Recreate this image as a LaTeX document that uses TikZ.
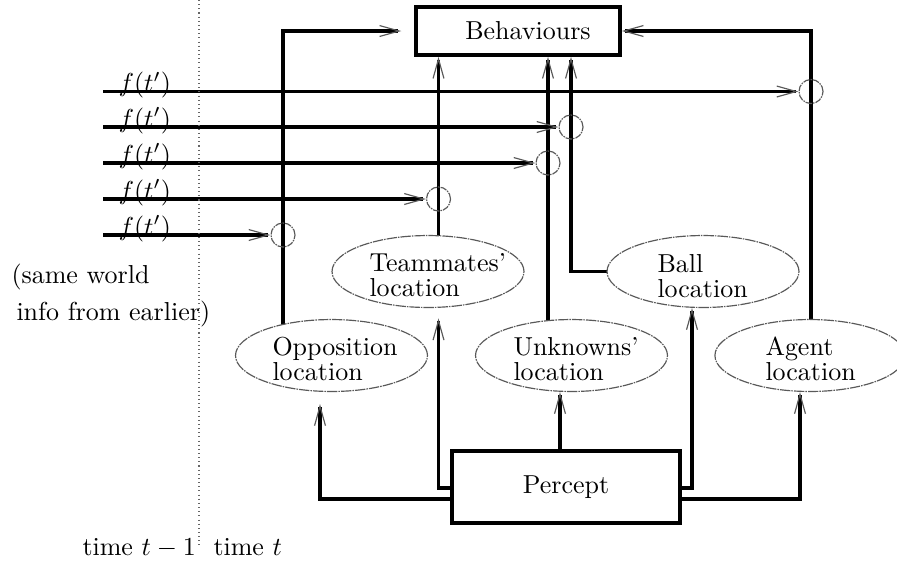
\documentclass[tikz,border=0pt]{standalone}
\usetikzlibrary{arrows.meta,shapes.geometric,calc,backgrounds}
\newcommand\twolines[2]{{\def\arraystretch{0.75}\begin{tabular}[t]{@{}l@{}}#1\\#2\end{tabular}}}
\begin{document}
\begin{tikzpicture}[x=0.385pt,y=-0.385pt,
  thickline/.style={line width=1.4pt},
  arr/.style={thickline,-{Straight Barb[length=7.5pt,width=4.2pt,line width=0.45pt,color=black!65]}},
  ell/.style={ellipse,draw=black!65,line width=0.45pt,dash pattern=on 4pt off 0.4pt on 0.6pt off 0.4pt,fill=white,minimum width=73.9pt,minimum height=27.7pt,inner sep=0pt},
  circ/.style={circle,draw=black!65,line width=0.45pt,dash pattern=on 2.5pt off 0.4pt on 0.6pt off 0.4pt,minimum size=9.24pt,inner sep=0pt},
  box/.style={draw,line width=1.4pt,inner sep=0pt},
  txt/.style={anchor=base west,inner sep=0pt},
  divider/.style={draw=black!60,line width=0.4pt,dash pattern=on 0.4pt off 1.2pt}]
\useasboundingbox (0,0) rectangle (897,567);

% boxes
\node[box,minimum width=78.5pt,minimum height=18.5pt] (beh) at (518,31) {\hspace*{7.7pt}Behaviours};
\node[box,minimum width=87.8pt,minimum height=27.7pt] (per) at (566,487) {Percept};

% ellipses
\node[ell] (opp) at (331.5,355.5) {};
\node[ell] (team) at (428,271.5) {};
\node[ell] (unk) at (571.5,355.5) {};
\node[ell] (ball) at (703,271.5) {};
\node[ell,minimum width=73.2pt] (agent) at (810,355.5) {};

\node[txt] (oppt) at (272,355) {\twolines{Opposition}{location}};
\node[txt] (teamt) at (369,271) {\twolines{Teammates'}{location}};
\node[txt] (unkt) at (513,355) {\twolines{Unknowns'}{location}};
\node[txt] (ballt) at (657,272) {\twolines{Ball}{location}};
\node[txt] (agentt) at (765,355) {\twolines{Agent}{location}};

% junction circles
\node[circ] (c1) at (811,91.5) {};
\node[circ] (c2) at (571,127) {};
\node[circ] (c3) at (548,163) {};
\node[circ] (c4) at (438.5,199) {};
\node[circ] (c5) at (283,235) {};

% input starts and labels
\coordinate (s1) at (103,91.5);
\coordinate (s2) at (103,127);
\coordinate (s3) at (103,163);
\coordinate (s4) at (103,199);
\coordinate (s5) at (103,235);
\node[txt] (f1) at (118,91.5) {$f(t')$};
\node[txt] (f2) at (118,127) {$f(t')$};
\node[txt] (f3) at (118,163) {$f(t')$};
\node[txt] (f4) at (118,199) {$f(t')$};
\node[txt] (f5) at (118,235) {$f(t')$};

\node[txt] (same1) at (11,283) {(same world};
\node[txt] (same2) at (16,320) {info from earlier)};
\node[txt] (tm1) at (82,555) {time $t-1$};
\node[txt] (tm2) at (213,555) {time $t$};

% time divider
\coordinate (dtop) at (199,0);
\coordinate (dbot) at (199,548);
\draw[divider] (dtop) -- (dbot);

\begin{scope}[on background layer]
  % up to Behaviours
  \draw[arr,shorten >=5pt] (c5 |- opp.center) -- (c5 |- beh.west) -- (beh.west);
  \draw[arr] (c4 |- team.center) -- (c4 |- beh.south);
  \draw[arr] (c3 |- unk.center) -- (c3 |- beh.south);
  \draw[arr] (ball.center) -- (c2 |- ball.center) -- (c2 |- beh.south);
  \draw[arr] (c1 |- agent.center) -- (c1 |- beh.east) -- (beh.east);
  % earlier inputs
  \draw[arr] (s1) -- (c1.west);
  \draw[arr] (s2) -- (c2.west);
  \draw[arr] (s3) -- (c3.west);
  \draw[arr] (s4) -- (c4.west);
  \draw[arr] (s5) -- (c5.west);
  % from Percept
  \draw[arr,shorten >=4.6pt] ($(per.west)+(0,12)$) -| ($(opp.south)+(-11.5,0)$);
  \draw[arr,shorten >=4pt] ($(per.west)+(0,1)$) -| (c4 |- team.south);
  \draw[arr] ($(per.north)+(-6,0)$) -- ($(unk.south)+(-11.5,0)$);
  \draw[arr] ($(per.east)+(0,1)$) -| ($(ball.south)+(-11,0)$);
  \draw[arr] ($(per.east)+(0,12)$) -| ($(agent.south)+(-10,0)$);
\end{scope}
\end{tikzpicture}
\end{document}
